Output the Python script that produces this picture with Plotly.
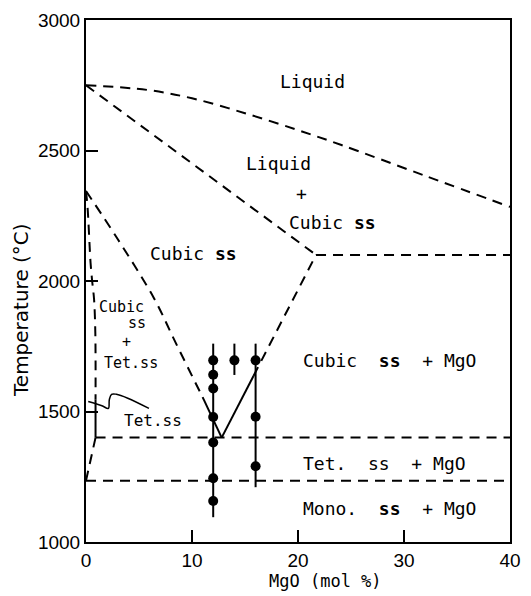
import plotly.graph_objects as go

# ---- data (MgO mol %, temperature °C) ----
liquidus_x = [0, 5.8, 10, 15, 20, 24.1, 32, 40]
liquidus_t = [2750, 2732, 2700, 2643, 2578, 2521, 2403, 2284]

solidus_x = [0, 21.7]
solidus_t = [2750, 2100]

eutectic_x = [21.7, 40]
eutectic_t = [2100, 2100]

cubic_right_dash_x = [15.8, 21.7]
cubic_right_dash_t = [1636, 2100]
cubic_right_solid_x = [12.8, 15.8]
cubic_right_solid_t = [1400, 1636]

cubic_left_dash_x = [0, 3, 6.4, 8.5, 11]
cubic_left_dash_t = [2345, 2160, 1935, 1760, 1555]
cubic_left_solid_x = [11, 12.8]
cubic_left_solid_t = [1555, 1400]

tet_left_dash_x = [0, 0.15, 0.43, 0.58, 0.76, 0.88, 0.9]
tet_left_dash_t = [2345, 2280, 2070, 2000, 1930, 1800, 1545]
tet_left_solid_x = [0.9, 0.9]
tet_left_solid_t = [1545, 1400]

tet_line_x = [0.9, 40]
tet_line_t = [1400, 1400]
mono_left_x = [0.9, 0]
mono_left_t = [1400, 1235]
mono_line_x = [0, 40]
mono_line_t = [1235, 1235]

leader_x = [0.21, 1.5, 2.11, 2.2, 2.41, 2.87, 3.94, 5.94]
leader_t = [1538, 1522, 1512, 1545, 1566, 1566, 1551, 1512]

# measured samples
col12_x = 12
col12_t = [1696, 1641, 1588, 1479, 1381, 1244, 1157]
col12_range = [1760, 1095]
col14_x = 14
col14_t = [1696]
col14_range = [1760, 1640]
col16_x = 16
col16_t = [1696, 1480, 1290]
col16_range = [1760, 1210]

x_ticks = [0, 10, 20, 30, 40]
y_ticks = [1000, 1500, 2000, 2500, 3000]

DASH = "10px,7px"
LW = 2

fig = go.Figure()

def add_line(x, y, dash=None, width=LW, shape="linear"):
    fig.add_trace(go.Scatter(x=x, y=y, mode="lines",
                             line=dict(color="black", width=width, dash=dash, shape=shape),
                             showlegend=False, hoverinfo="skip"))

add_line(liquidus_x, liquidus_t, DASH, shape="spline")
add_line(solidus_x, solidus_t, DASH)
add_line(eutectic_x, eutectic_t, DASH)
add_line(cubic_right_dash_x, cubic_right_dash_t, DASH)
add_line(cubic_right_solid_x, cubic_right_solid_t)
add_line(cubic_left_dash_x, cubic_left_dash_t, DASH, shape="spline")
add_line(cubic_left_solid_x, cubic_left_solid_t)
add_line(tet_left_dash_x, tet_left_dash_t, DASH, shape="spline")
add_line(tet_left_solid_x, tet_left_solid_t)
add_line(tet_line_x, tet_line_t, DASH)
add_line(mono_left_x, mono_left_t, DASH)
add_line(mono_line_x, mono_line_t, DASH)
add_line(leader_x, leader_t, None, 1.5, shape="spline")

for cx, rng in [(col12_x, col12_range), (col14_x, col14_range), (col16_x, col16_range)]:
    add_line([cx, cx], rng)

pts_x = [col12_x] * len(col12_t) + [col14_x] * len(col14_t) + [col16_x] * len(col16_t)
pts_t = col12_t + col14_t + col16_t
fig.add_trace(go.Scatter(x=pts_x, y=pts_t, mode="markers",
                         marker=dict(color="black", size=10),
                         showlegend=False, hoverinfo="skip"))

MONO = "DejaVu Sans Mono"
labels = [
    ("Liquid", 21.4, 2763, 18, "center"),
    ("Liquid", 18.2, 2449, 18, "center"),
    ("+", 20.3, 2335, 18, "center"),
    ("Cubic <b>ss</b>", 23.3, 2226, 18, "center"),
    ("Cubic <b>ss</b>", 10.1, 2107, 18, "center"),
    ("Cubic", 3.36, 1902, 15, "center"),
    ("ss", 4.78, 1841, 15, "center"),
    ("+", 3.83, 1766, 15, "center"),
    ("Tet.ss", 4.2, 1686, 15, "center"),
    ("Tet.ss", 6.34, 1467, 16, "center"),
    ("Cubic  <b>ss</b>  + MgO", 20.3, 1696, 18, "left"),
    ("Tet.  ss  + MgO", 20.3, 1300, 18, "left"),
    ("Mono.  <b>ss</b>  + MgO", 20.3, 1128, 18, "left"),
]
for txt, x, y, sz, anc in labels:
    fig.add_annotation(x=x, y=y, text=txt, showarrow=False, xanchor=anc, yanchor="middle",
                       font=dict(family=MONO, size=sz, color="black"))

fig.add_annotation(xref="paper", yref="paper", x=0.564, y=-0.0746, text="MgO (mol %)",
                   showarrow=False, xanchor="center", yanchor="middle",
                   font=dict(family=MONO, size=17, color="black"))
fig.add_annotation(xref="paper", yref="paper", x=-0.152, y=0.4436, text="Temperature (°C)",
                   textangle=-90, showarrow=False, xanchor="center", yanchor="middle",
                   font=dict(family="DejaVu Sans", size=20, color="black"))

axis_common = dict(showline=True, linecolor="black", linewidth=2, mirror=True,
                   ticks="inside", ticklen=12, tickwidth=2, tickcolor="black",
                   showgrid=False, zeroline=False,
                   tickfont=dict(family="Liberation Sans", size=19, color="black"))

fig.update_xaxes(range=[0, 40], tickvals=x_ticks, ticktext=[str(v) for v in x_ticks], **axis_common)
fig.update_yaxes(range=[1000, 3000], tickvals=y_ticks, ticktext=[str(v) for v in y_ticks], **axis_common)

fig.update_layout(width=531, height=596, margin=dict(l=86, r=10, t=19, b=54),
                  plot_bgcolor="white", paper_bgcolor="white")

fig.write_html("out.html")
